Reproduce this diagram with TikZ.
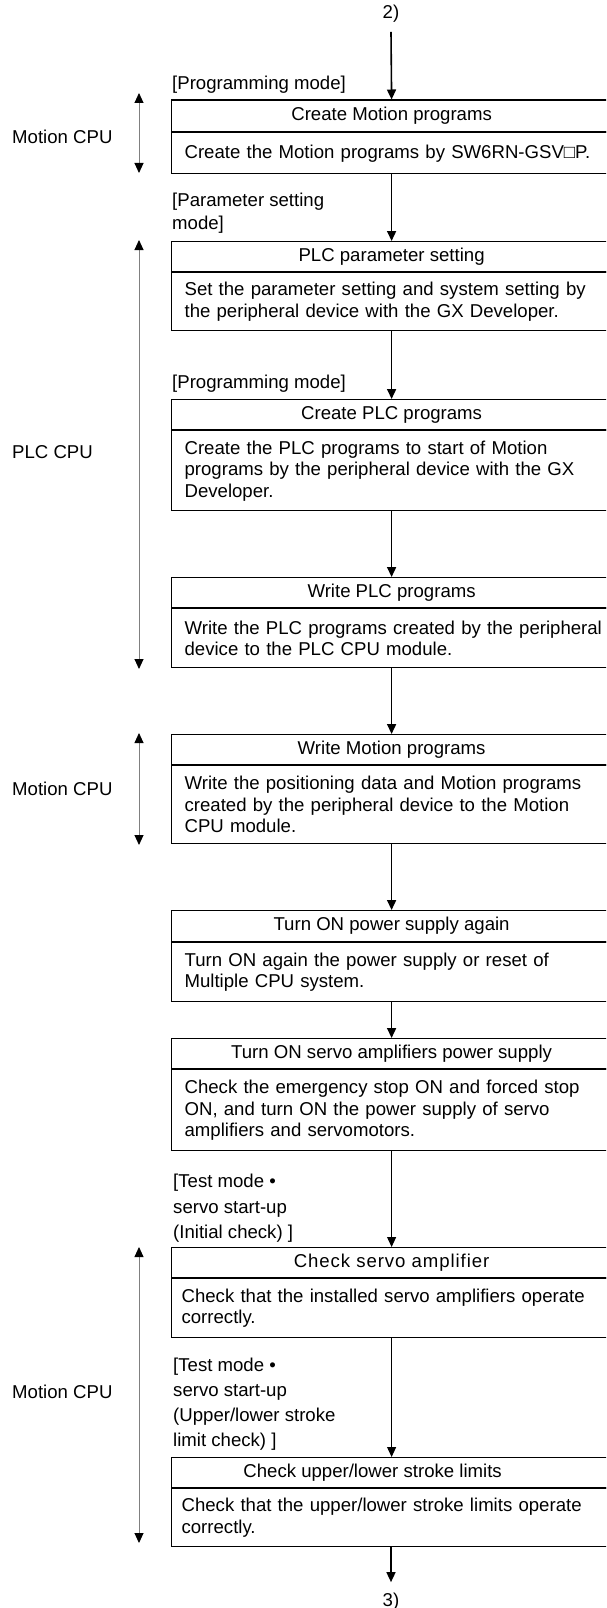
\documentclass[tikz,border=0pt]{standalone}
\usepackage{fontspec}
\setmainfont{Liberation Sans}
\usetikzlibrary{arrows.meta}

\begin{document}
\begin{tikzpicture}[x=1pt,y=-1pt,>={Triangle[width=9pt,length=10pt]},
    every node/.style={font=\fontsize{18.6}{21.5}\selectfont},
    head/.style={draw,line width=1.2pt,minimum width=440pt,minimum height=30pt,inner sep=0pt,anchor=north west},
    body/.style={draw,line width=1.2pt,text width=430pt,inner xsep=13pt,inner ysep=0pt,align=left,anchor=north west},
    flow/.style={->,line width=1.6pt},
    span/.style={{Triangle[width=9pt,length=10pt,color=black]}-{Triangle[width=9pt,length=10pt,color=black]},gray,line width=0.9pt},
    mode/.style={anchor=west,align=left,inner sep=0pt}]
    \useasboundingbox (0,0) rectangle (606,1608);
    \clip (0,0) rectangle (606,1608);

    % steps
    \node[inner ysep=9pt] (in) at (391,14) {2)};
    \node[mode] (m1) at (172,85) {[Programming mode]};
    \node[head,minimum height=31.5pt] (cm) at (171,99.5) {Create Motion programs};
    \node[body,minimum height=41pt] (cmb) at (cm.south west) {Create the Motion programs by SW6RN-GSV□P.};

    \node[mode] (m2) at (172,213.5) {[Parameter setting\\[1.5pt]mode]};
    \node[head] (pp) at (171,241) {PLC parameter setting};
    \node[body,minimum height=58pt] (ppb) at (pp.south west) {Set the parameter setting and system setting by\\the peripheral device with the GX Developer.};

    \node[mode] (m3) at (172,384) {[Programming mode]};
    \node[head] (cp) at (171,399) {Create PLC programs};
    \node[body,minimum height=80pt] (cpb) at (cp.south west) {Create the PLC programs to start of Motion\\programs by the peripheral device with the GX\\Developer.};

    \node[head] (wp) at (171,577) {Write PLC programs};
    \node[body,minimum height=59pt] (wpb) at (wp.south west) {Write the PLC programs created by the peripheral\\device to the PLC CPU module.};

    \node[head] (wm) at (171,734) {Write Motion programs};
    \node[body,minimum height=78pt] (wmb) at (wm.south west) {Write the positioning data and Motion programs\\created by the peripheral device to the Motion\\CPU module.};

    \node[head,minimum height=31pt] (po) at (171,910) {Turn ON power supply again};
    \node[body,minimum height=59pt] (pob) at (po.south west) {Turn ON again the power supply or reset of\\Multiple CPU system.};

    \node[head] (sa) at (171,1038) {Turn ON servo amplifiers power supply};
    \node[body,minimum height=81pt] (sab) at (sa.south west) {Check the emergency stop ON and forced stop\\ON, and turn ON the power supply of servo\\amplifiers and servomotors.};

    \node[mode] (m4) at (173,1208.5) {[Test mode \textbullet\\[4pt]servo start-up\\[4pt](Initial check) ]};
    \node[head] (cs) at (171,1247) {\addfontfeature{LetterSpace=5}Check servo amplifier};
    \node[body,minimum height=59pt,inner xsep=10pt] (csb) at (cs.south west) {Check that the installed servo amplifiers operate\\correctly.};

    \node[mode] (m5) at (173,1404.5) {[Test mode \textbullet\\[3.5pt]servo start-up\\[3.5pt](Upper/lower stroke\\[3.5pt]limit check) ]};
    \node[head] (cl) at (171,1457) {\hspace*{-38pt}Check upper/lower stroke limits};
    \node[body,minimum height=58pt,inner xsep=10pt] (clb) at (cl.south west) {Check that the upper/lower stroke limits operate\\correctly.};
    \node[inner ysep=11pt] (out) at (391,1602) {3)};

    \foreach \n in {cm,pp,cp,wp,wm,po,sa,cs,cl}
        \draw[line width=2.2pt] (\n.south west) -- (\n.south east);

    % connectors
    \draw[flow] (in.south) -- (cm.north);
    \foreach \a/\b in {cmb/pp,ppb/cp,cpb/wp,wpb/wm,wmb/po,pob/sa}
        \draw[flow] (\a.south -| \b.north) -- (\b.north);
    \draw[flow,line width=1pt] (sab.south -| cs.north) -- (cs.north);
    \draw[flow,line width=1pt] (csb.south -| cl.north) -- (cl.north);
    \draw[flow] (clb.south -| out.north) -- (out.north);

    % CPU spans
    \foreach \i/\ya/\yb/\yl/\lab in {1/93/173/137/Motion CPU,2/240/669/452/PLC CPU,3/733/845/789/Motion CPU,4/1247/1543/1392/Motion CPU}{
        \coordinate (up\i) at (139,\ya);
        \coordinate (dn\i) at (139,\yb);
        \draw[span] (up\i) -- (dn\i);
        \node[anchor=west,inner sep=0pt] (cpu\i) at (12,\yl) {\lab};
    }
\end{tikzpicture}
\end{document}
